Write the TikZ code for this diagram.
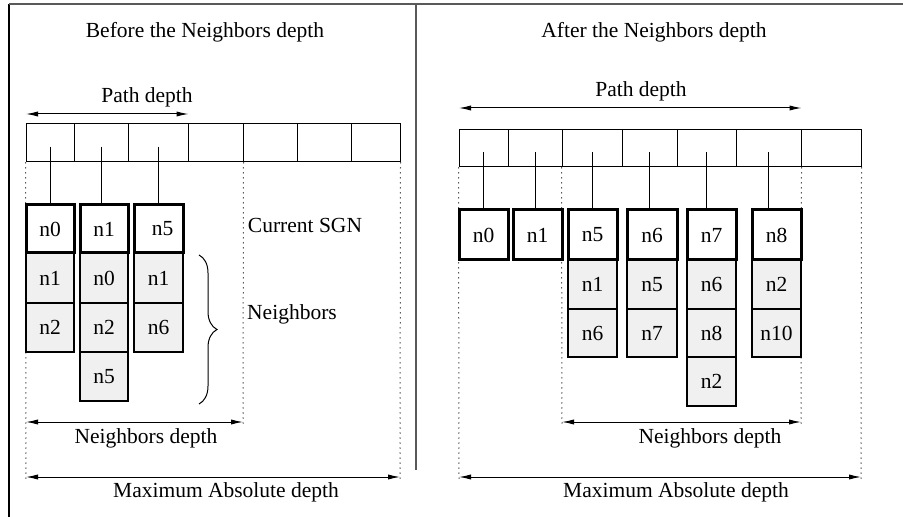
\documentclass[tikz,border=0pt]{standalone}
\usepackage{fontspec}
\setmainfont{Liberation Serif}
\usetikzlibrary{arrows.meta,decorations.pathreplacing,calc}
\newcommand\mybox[7]{%
  \pgfmathsetmacro\bcx{(#3+#5)/2}%
  \pgfmathsetmacro\bcy{(#4+#6)/2}%
  \pgfmathsetmacro\bw{(#5-#3)/2}%
  \pgfmathsetmacro\bh{(#6-#4)/2}%
  \node[#1, minimum width=\bw pt, minimum height=\bh pt] (#2) at (\bcx,\bcy) {#7};}
\begin{document}
\begin{tikzpicture}[x=0.5pt,y=-0.5pt, font=\fontsize{10.75}{12}\selectfont,
  cell/.style={draw, line width=0.5pt, inner sep=0pt},
  sgn/.style={draw, line width=1.5pt, inner sep=0pt},
  nb/.style={draw, line width=0.6pt, fill=gray!12, inner sep=0pt},
  ptr/.style={line width=0.5pt},
  guide/.style={dotted, line width=0.5pt},
  dimarrow/.style={{Latex[length=6pt,width=2.6pt]}-{Latex[length=6pt,width=2.6pt]}, line width=0.5pt},
  lbl/.style={anchor=base, inner sep=0pt}]
\useasboundingbox (0,0) rectangle (903,517);

% frame
\draw[line width=0.6pt] (9,517) -- (9,4);
\draw[line width=0.6pt, gray!70!black] (9,4) -- (903,4);
\draw[line width=0.6pt, gray!70!black] (416,4) -- (416,470);

%%%%%%%% LEFT PANEL
\node[lbl] (ltitle) at (205,38) {Before the Neighbors depth};
\node[lbl] (lpath) at (147,103) {Path depth};

\mybox{cell}{L1}{26}{124}{74}{162}{}
\mybox{cell}{L2}{74}{124}{128}{162}{}
\mybox{cell}{L3}{128}{124}{188}{162}{}
\mybox{cell}{L4}{188}{124}{243}{162}{}
\mybox{cell}{L5}{243}{124}{297}{162}{}
\mybox{cell}{L6}{297}{124}{351}{162}{}
\mybox{cell}{L7}{351}{124}{400}{162}{}

% neighbours (left)
\mybox{nb}{la1}{26}{253}{74}{303}{n1}
\mybox{nb}{la2}{26}{303}{74}{352}{n2}
\mybox{nb}{lb1}{80}{253}{128}{303}{n0}
\mybox{nb}{lb2}{80}{303}{128}{352}{n2}
\mybox{nb}{lb3}{80}{352}{128}{401}{n5}
\mybox{nb}{lc1}{134}{253}{183}{303}{n1}
\mybox{nb}{lc2}{134}{303}{183}{352}{n6}

% current SGN (left)
\mybox{sgn}{la0}{26}{205}{74}{253}{n0}
\mybox{sgn}{lb0}{80}{205}{128}{253}{n1}
\mybox{sgn}{lc0}{134}{205}{183}{253}{\hspace*{4pt}n5}

\draw[ptr] ([yshift=-2pt]L1.center) -- (L1.center |- la0.north);
\draw[ptr] ([yshift=-2pt]L2.center) -- (L2.center |- lb0.north);
\draw[ptr] ([yshift=-2pt]L3.center) -- (L3.center |- lc0.north);

\node[lbl] (lcur) at (305,233) {Current SGN};
\node[lbl] (lnbs) at (292,320) {Neighbors};
\draw[line width=0.5pt, decorate, decoration={brace, amplitude=9pt}] (199,255) -- (199,404);

\coordinate (lpA) at (26,114);
\coordinate (lpB) at (L3.east |- lpA);
\draw[dimarrow] (lpA) -- (lpB);

\coordinate (lnA) at (26,422);
\coordinate (lnB) at (243,422);
\coordinate (lmA) at (26,477);
\coordinate (lmB) at (400,477);
\coordinate (lgA) at (26,480);
\coordinate (lgB) at (243,424);
\coordinate (lgC) at (400,480);
\draw[guide] (L1.south west) -- (lgA);
\draw[guide] (L4.south east) -- (lgB);
\draw[guide] (L7.south east) -- (lgC);
\draw[dimarrow] (lnA) -- (lnB);
\draw[dimarrow] (lmA) -- (lmB);
\node[lbl] (lnd) at (146,443) {Neighbors depth};
\node[lbl] (lmd) at (226,497) {Maximum Absolute depth};

%%%%%%%% RIGHT PANEL
\node[lbl] (rtitle) at (654,38) {After the Neighbors depth};
\node[lbl] (rpath) at (641,97) {Path depth};

\mybox{cell}{R1}{459}{130}{508}{167}{}
\mybox{cell}{R2}{508}{130}{562}{167}{}
\mybox{cell}{R3}{562}{130}{622}{167}{}
\mybox{cell}{R4}{622}{130}{677}{167}{}
\mybox{cell}{R5}{677}{130}{736}{167}{}
\mybox{cell}{R6}{736}{130}{801}{167}{}
\mybox{cell}{R7}{801}{130}{861}{167}{}

% neighbours (right)
\mybox{nb}{rc1}{568}{260}{617}{309}{n1}
\mybox{nb}{rc2}{568}{309}{617}{357}{n6}
\mybox{nb}{rd1}{627}{260}{677}{309}{n5}
\mybox{nb}{rd2}{627}{309}{677}{357}{n7}
\mybox{nb}{re1}{687}{260}{736}{309}{n6}
\mybox{nb}{re2}{687}{309}{736}{357}{n8}
\mybox{nb}{re3}{687}{357}{736}{406}{n2}
\mybox{nb}{rf1}{752}{260}{801}{309}{n2}
\mybox{nb}{rf2}{752}{309}{801}{357}{n10}

% current SGN (right)
\mybox{sgn}{ra0}{459}{210}{508}{260}{n0}
\mybox{sgn}{rb0}{513}{210}{562}{260}{n1}
\mybox{sgn}{rc0}{568}{210}{617}{260}{n5}
\mybox{sgn}{rd0}{627}{210}{677}{260}{n6}
\mybox{sgn}{re0}{687}{210}{736}{260}{n7}
\mybox{sgn}{rf0}{752}{210}{801}{260}{n8}

\draw[ptr] ([yshift=-2pt]R1.center) -- (R1.center |- ra0.north);
\draw[ptr] ([yshift=-2pt]R2.center) -- (R2.center |- rb0.north);
\draw[ptr] ([yshift=-2pt]R3.center) -- (R3.center |- rc0.north);
\draw[ptr] ([yshift=-2pt]R4.center) -- (R4.center |- rd0.north);
\draw[ptr] ([yshift=-2pt]R5.center) -- (R5.center |- re0.north);
\draw[ptr] ([yshift=-2pt]R6.center) -- (R6.center |- rf0.north);

\coordinate (rpA) at (459,108);
\coordinate (rpB) at (R6.east |- rpA);
\draw[dimarrow] (rpA) -- (rpB);

\coordinate (rnA) at (562,422);
\coordinate (rnB) at (801,422);
\coordinate (rmA) at (459,477);
\coordinate (rmB) at (861,477);
\coordinate (rgA) at (459,480);
\coordinate (rgB) at (562,425);
\coordinate (rgC) at (801,425);
\coordinate (rgD) at (861,480);
\draw[guide] (R1.south west) -- (rgA);
\draw[guide] (R3.south west) -- (rgB);
\draw[guide] (R6.south east) -- (rgC);
\draw[guide] (R7.south east) -- (rgD);
\draw[dimarrow] (rnA) -- (rnB);
\draw[dimarrow] (rmA) -- (rmB);
\node[lbl] (rnd) at (710,443) {Neighbors depth};
\node[lbl] (rmd) at (676,497) {Maximum Absolute depth};
\end{tikzpicture}
\end{document}
